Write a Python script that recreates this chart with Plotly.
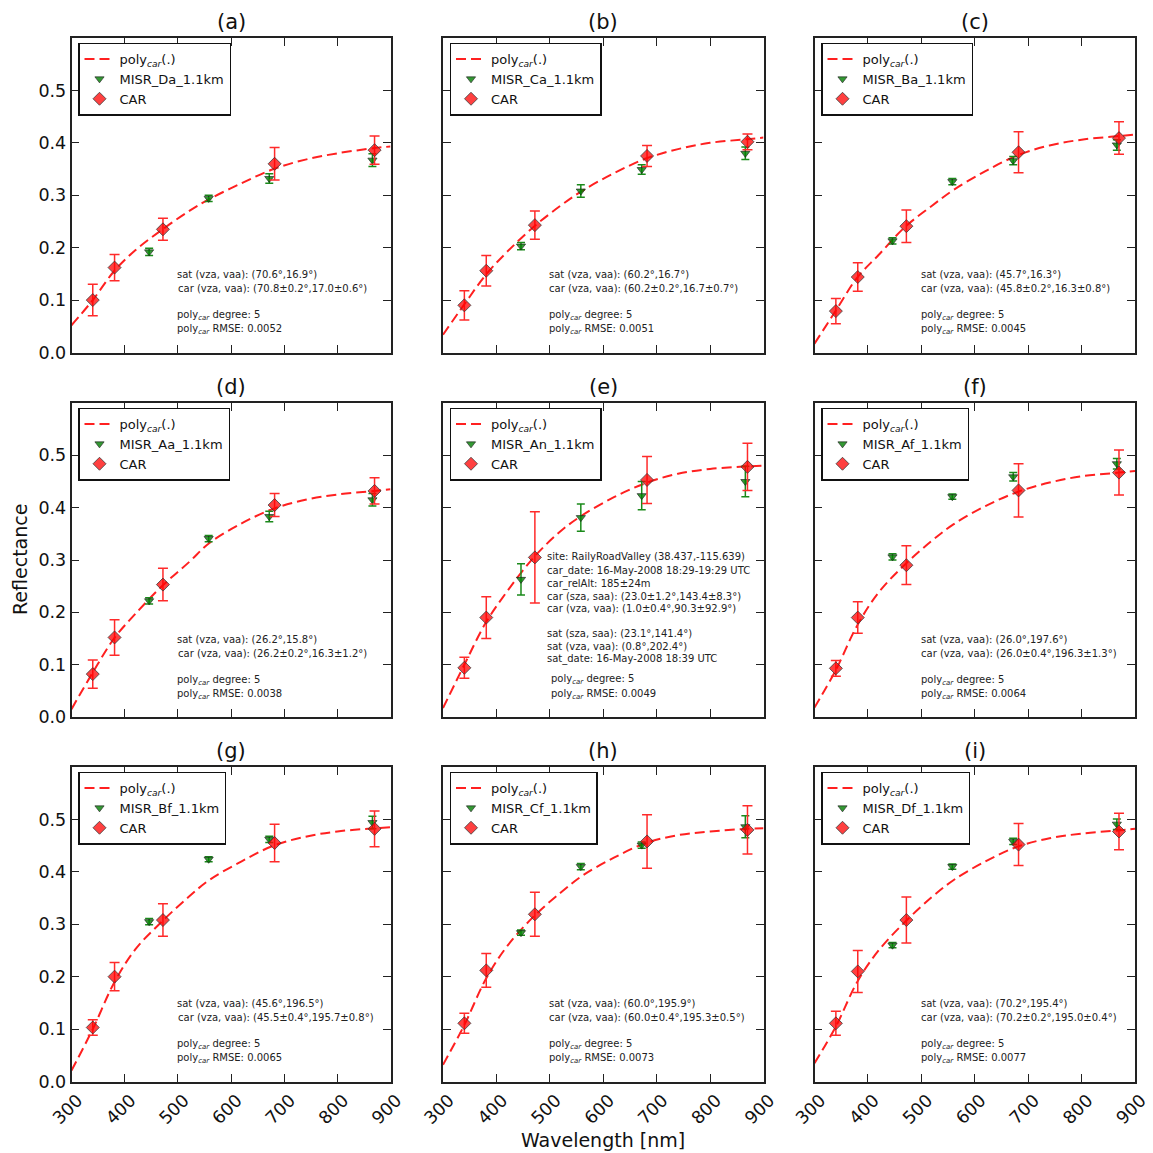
import plotly.graph_objects as go

# ---------------- data ----------------
CAR_WL = [340, 381, 472, 682, 870]
MISR_WL = [446, 558, 672, 866]
CURVE_WL = [300, 340, 380, 420, 470, 520, 560, 620, 680, 740, 800, 870, 900]
X_TICKS = [300, 400, 500, 600, 700, 800, 900]
Y_TICKS = [0.0, 0.1, 0.2, 0.3, 0.4, 0.5]

PANEL_LABELS = ['(a)', '(b)', '(c)', '(d)', '(e)', '(f)', '(g)', '(h)', '(i)']
MISR_NAMES = ['MISR_Da_1.1km', 'MISR_Ca_1.1km', 'MISR_Ba_1.1km',
              'MISR_Aa_1.1km', 'MISR_An_1.1km', 'MISR_Af_1.1km',
              'MISR_Bf_1.1km', 'MISR_Cf_1.1km', 'MISR_Df_1.1km']

CAR_A = [0.100, 0.162, 0.235, 0.360, 0.386]
CAR_B = [0.090, 0.156, 0.243, 0.375, 0.402]
CAR_C = [0.079, 0.144, 0.241, 0.382, 0.409]
CAR_D = [0.082, 0.152, 0.253, 0.405, 0.432]
CAR_E = [0.094, 0.190, 0.305, 0.453, 0.478]
CAR_F = [0.093, 0.190, 0.290, 0.433, 0.467]
CAR_G = [0.103, 0.200, 0.308, 0.455, 0.482]
CAR_H = [0.111, 0.212, 0.319, 0.458, 0.480]
CAR_I = [0.111, 0.210, 0.308, 0.452, 0.477]

CAR_ERR_A = [0.030, 0.025, 0.021, 0.031, 0.027]
CAR_ERR_B = [0.028, 0.029, 0.027, 0.020, 0.015]
CAR_ERR_C = [0.024, 0.027, 0.031, 0.039, 0.031]
CAR_ERR_D = [0.027, 0.034, 0.031, 0.022, 0.025]
CAR_ERR_E = [0.020, 0.040, 0.087, 0.045, 0.045]
CAR_ERR_F = [0.015, 0.030, 0.037, 0.051, 0.043]
CAR_ERR_G = [0.015, 0.027, 0.031, 0.036, 0.034]
CAR_ERR_H = [0.019, 0.032, 0.042, 0.051, 0.046]
CAR_ERR_I = [0.023, 0.040, 0.044, 0.040, 0.035]

MISR_A = [0.192, 0.294, 0.332, 0.367]
MISR_B = [0.203, 0.308, 0.349, 0.380]
MISR_C = [0.213, 0.326, 0.366, 0.396]
MISR_D = [0.222, 0.341, 0.383, 0.415]
MISR_E = [0.263, 0.381, 0.423, 0.450]
MISR_F = [0.306, 0.421, 0.459, 0.484]
MISR_G = [0.305, 0.424, 0.462, 0.494]
MISR_H = [0.284, 0.410, 0.451, 0.486]
MISR_I = [0.260, 0.410, 0.458, 0.491]

MISR_ERR_A = [0.007, 0.006, 0.009, 0.012]
MISR_ERR_B = [0.007, 0.012, 0.009, 0.012]
MISR_ERR_C = [0.006, 0.006, 0.008, 0.010]
MISR_ERR_D = [0.006, 0.006, 0.010, 0.012]
MISR_ERR_E = [0.030, 0.026, 0.027, 0.029]
MISR_ERR_F = [0.006, 0.005, 0.008, 0.010]
MISR_ERR_G = [0.006, 0.005, 0.006, 0.012]
MISR_ERR_H = [0.005, 0.006, 0.006, 0.021]
MISR_ERR_I = [0.005, 0.005, 0.006, 0.010]

CURVE_A = [0.052, 0.100, 0.155, 0.195, 0.234, 0.269, 0.293, 0.323, 0.350, 0.368, 0.380, 0.390, 0.393]
CURVE_B = [0.034, 0.092, 0.148, 0.192, 0.240, 0.280, 0.308, 0.342, 0.370, 0.388, 0.400, 0.407, 0.410]
CURVE_C = [0.017, 0.080, 0.143, 0.186, 0.240, 0.280, 0.310, 0.346, 0.376, 0.395, 0.406, 0.413, 0.416]
CURVE_D = [0.015, 0.085, 0.150, 0.197, 0.250, 0.295, 0.333, 0.370, 0.398, 0.415, 0.425, 0.432, 0.435]
CURVE_E = [0.017, 0.100, 0.180, 0.240, 0.305, 0.355, 0.385, 0.420, 0.447, 0.465, 0.474, 0.479, 0.480]
CURVE_F = [0.018, 0.090, 0.175, 0.238, 0.292, 0.337, 0.368, 0.403, 0.430, 0.448, 0.460, 0.467, 0.470]
CURVE_G = [0.021, 0.100, 0.188, 0.252, 0.305, 0.352, 0.385, 0.420, 0.450, 0.467, 0.477, 0.483, 0.485]
CURVE_H = [0.032, 0.108, 0.195, 0.258, 0.315, 0.360, 0.392, 0.427, 0.455, 0.470, 0.477, 0.482, 0.483]
CURVE_I = [0.035, 0.105, 0.190, 0.250, 0.305, 0.352, 0.384, 0.420, 0.448, 0.464, 0.473, 0.479, 0.482]

SAT_GEOM = ['(70.6°,16.9°)', '(60.2°,16.7°)', '(45.7°,16.3°)', '(26.2°,15.8°)', None,
            '(26.0°,197.6°)', '(45.6°,196.5°)', '(60.0°,195.9°)', '(70.2°,195.4°)']
CAR_GEOM = ['(70.8±0.2°,17.0±0.6°)', '(60.2±0.2°,16.7±0.7°)', '(45.8±0.2°,16.3±0.8°)',
            '(26.2±0.2°,16.3±1.2°)', None, '(26.0±0.4°,196.3±1.3°)',
            '(45.5±0.4°,195.7±0.8°)', '(60.0±0.4°,195.3±0.5°)', '(70.2±0.2°,195.0±0.4°)']
RMSE = ['0.0052', '0.0051', '0.0045', '0.0038', '0.0049', '0.0064', '0.0065', '0.0073', '0.0077']
E_INFO = ['site: RailyRoadValley (38.437,-115.639)',
          'car_date: 16-May-2008 18:29-19:29 UTC',
          'car_relAlt: 185±24m',
          'car (sza, saa): (23.0±1.2°,143.4±8.3°)',
          'car (vza, vaa): (1.0±0.4°,90.3±92.9°)',
          'sat (sza, saa): (23.1°,141.4°)',
          'sat (vza, vaa): (0.8°,202.4°)',
          'sat_date: 16-May-2008 18:39 UTC']

CARS = [CAR_A, CAR_B, CAR_C, CAR_D, CAR_E, CAR_F, CAR_G, CAR_H, CAR_I]
CAR_ERRS = [CAR_ERR_A, CAR_ERR_B, CAR_ERR_C, CAR_ERR_D, CAR_ERR_E, CAR_ERR_F, CAR_ERR_G, CAR_ERR_H, CAR_ERR_I]
MISRS = [MISR_A, MISR_B, MISR_C, MISR_D, MISR_E, MISR_F, MISR_G, MISR_H, MISR_I]
MISR_ERRS = [MISR_ERR_A, MISR_ERR_B, MISR_ERR_C, MISR_ERR_D, MISR_ERR_E, MISR_ERR_F, MISR_ERR_G, MISR_ERR_H, MISR_ERR_I]
CURVES = [CURVE_A, CURVE_B, CURVE_C, CURVE_D, CURVE_E, CURVE_F, CURVE_G, CURVE_H, CURVE_I]

# ---------------- layout geometry (pixels) ----------------
W = H = 1153
FONT = 'DejaVu Sans'
COLS = [(71.5, 390.5), (443, 763.5), (814.5, 1135)]
ROWS = [(38, 352.5), (403, 717), (767, 1081.5)]


def px(x):
    return x / W


def py(y):
    return 1 - y / H


fig = go.Figure()
layout = dict(
    width=W, height=H, margin=dict(l=0, r=0, t=0, b=0, pad=0, autoexpand=False),
    paper_bgcolor='white', plot_bgcolor='white',
    font=dict(family=FONT, color='#111'),
    showlegend=True,
)
annotations = []

for k in range(9):
    r, c = divmod(k, 3)
    n = '' if k == 0 else str(k + 1)
    xa, ya = 'x' + n, 'y' + n
    leg = 'legend' + n
    x0, x1 = COLS[c]
    y0, y1 = ROWS[r]

    layout['xaxis' + n] = dict(
        domain=[px(x0), px(x1)], anchor=ya, range=[300, 900], automargin=False,
        tickvals=X_TICKS, showticklabels=(r == 2), tickangle=-45,
        ticks='inside', ticklen=8, tickwidth=1, tickcolor='#222',
        showline=True, linecolor='#222', linewidth=1.5, mirror='ticks',
        showgrid=False, zeroline=False,
        tickfont=dict(size=17.5, family=FONT, color='#111'),
        ticklabelshift=6, ticklabelstandoff=0,
    )
    layout['yaxis' + n] = dict(
        domain=[py(y1), py(y0)], anchor=xa, range=[0, 0.6], automargin=False,
        tickvals=Y_TICKS, tickformat='.1f', showticklabels=(c == 0),
        ticks='inside', ticklen=8, tickwidth=1, tickcolor='#222',
        showline=True, linecolor='#222', linewidth=1.5, mirror='ticks',
        showgrid=False, zeroline=False,
        tickfont=dict(size=17.5, family=FONT, color='#111'),
    )
    layout[leg] = dict(
        x=px(x0 + 6.5), y=py(y0 + 4.5), xanchor='left', yanchor='top',
        bgcolor='white', bordercolor='#111', borderwidth=1.5,
        font=dict(size=13, family=FONT, color='#111'),
        tracegroupgap=0, itemwidth=30,
    )

    fig.add_trace(go.Scatter(
        x=CURVE_WL, y=CURVES[k], mode='lines', xaxis=xa, yaxis=ya, legend=leg,
        name='poly<sub><i>car</i></sub>(.)',
        line=dict(color='#ff2020', width=2, dash='10px,5px', shape='spline', smoothing=1.0),
    ))
    fig.add_trace(go.Scatter(
        x=MISR_WL, y=MISRS[k], mode='markers', xaxis=xa, yaxis=ya, legend=leg,
        name=MISR_NAMES[k],
        marker=dict(symbol='triangle-down', size=8, color='rgba(0,128,0,0.8)',
                    line=dict(color='rgba(30,30,30,0.8)', width=0.8)),
        error_y=dict(type='data', array=MISR_ERRS[k], color='#1a8a1a', thickness=1.5, width=4),
    ))
    fig.add_trace(go.Scatter(
        x=CAR_WL, y=CARS[k], mode='markers', xaxis=xa, yaxis=ya, legend=leg,
        name='CAR',
        marker=dict(symbol='diamond', size=10, color='rgba(255,0,0,0.75)',
                    line=dict(color='rgba(60,60,60,0.8)', width=1)),
        error_y=dict(type='data', array=CAR_ERRS[k], color='#ff2a2a', thickness=1.5, width=5),
    ))

    # panel title
    annotations.append(dict(
        x=px((x0 + x1) / 2), y=py(y0 - 16), xref='paper', yref='paper',
        text=PANEL_LABELS[k], showarrow=False, xanchor='center', yanchor='middle',
        font=dict(size=21, family=FONT, color='#111'),
    ))

    # info text
    if k == 4:
        lines = E_INFO + ['poly<sub><i>car</i></sub> degree: 5',
                          'poly<sub><i>car</i></sub> RMSE: ' + RMSE[k]]
        offs = [0, 14, 27.6, 39.3, 51.6, 76.6, 90, 102.6, 122.6, 137.6]
        xoffs = [102] * 8 + [105.5, 105.5]
        base = y0 + 153.7
    else:
        lines = ['sat (vza, vaa): ' + SAT_GEOM[k],
                 'car (vza, vaa): ' + CAR_GEOM[k],
                 'poly<sub><i>car</i></sub> degree: 5',
                 'poly<sub><i>car</i></sub> RMSE: ' + RMSE[k]]
        offs = [0, 13.5, 40.5, 55]
        xoffs = [104] * 4
        base = y0 + 236.5
    for t, dy, dx in zip(lines, offs, xoffs):
        annotations.append(dict(
            x=px(x0 + dx), y=py(base + dy), xref='paper', yref='paper',
            text=t, showarrow=False, xanchor='left', yanchor='middle',
            font=dict(size=10, family=FONT, color='#222'),
        ))

annotations.append(dict(
    x=px(20), y=py(560), xref='paper', yref='paper', text='Reflectance',
    showarrow=False, textangle=-90, xanchor='center', yanchor='middle',
    font=dict(size=19, family=FONT, color='#111'),
))
annotations.append(dict(
    x=px(603), y=py(1140), xref='paper', yref='paper', text='Wavelength [nm]',
    showarrow=False, xanchor='center', yanchor='middle',
    font=dict(size=19, family=FONT, color='#111'),
))
layout['annotations'] = annotations
fig.update_layout(**layout)
fig.write_html('out.html', config={'displayModeBar': False},
               post_script="document.body.style.margin='0';document.body.style.padding='0';")
